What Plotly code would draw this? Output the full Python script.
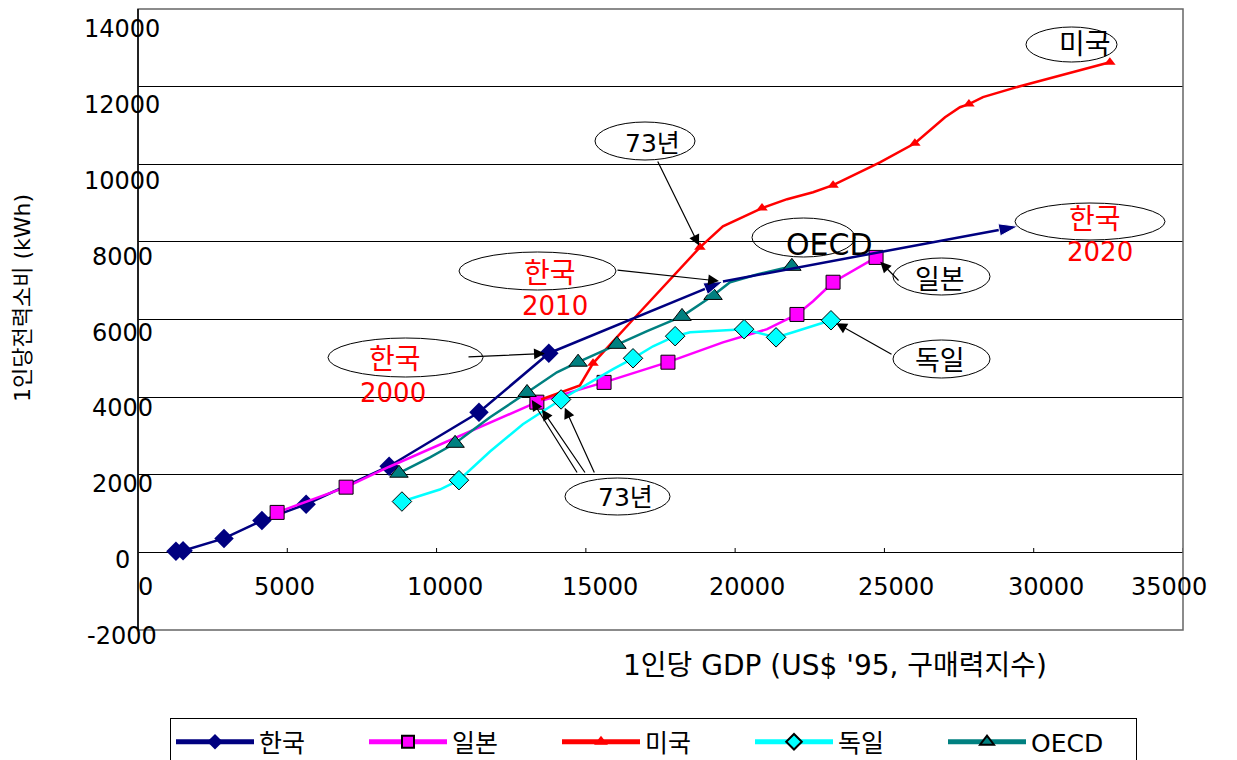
import plotly.graph_objects as go

# ---- data: per-capita GDP (US$ '95 PPP) vs per-capita electricity use (kWh) ----
kr_gdp = [1270, 1510, 2880, 4150, 5630, 8410, 11420, 13760]
kr_kwh = [30, 40, 360, 820, 1240, 2220, 3610, 5130]
kr_marked = [1, 1, 1, 1, 1, 1, 1, 1]
# Korea outlook: 2010, 2020
kr_proj_gdp = [19590, 29470]
kr_proj_kwh = [6980, 8400]

jp_gdp = [4660, 6970, 8400, 13360, 15610, 17750, 19590, 21070, 22070, 22610, 23280, 24720]
jp_kwh = [1030, 1680, 2200, 3870, 4380, 4900, 5410, 5750, 6130, 6470, 6960, 7600]
jp_marked = [1, 1, 0, 1, 1, 1, 0, 0, 1, 0, 1, 1]

us_gdp = [13500, 14800, 15240, 16580, 18820, 19590, 20900, 21740, 22610, 23280,
          24850, 26020, 27030, 27530, 27830, 28300, 29540, 32550]
us_kwh = [3940, 4300, 4870, 6000, 7860, 8400, 8870, 9100, 9280, 9460,
          10050, 10540, 11210, 11470, 11550, 11730, 12010, 12630]
us_marked = [0, 0, 1, 0, 1, 0, 1, 0, 0, 1, 0, 1, 0, 0, 1, 0, 0, 1]

de_gdp = [8840, 10110, 10750, 11790, 12890, 14170, 15910, 16580, 17250, 17990,
          18490, 19260, 20300, 21370, 21940, 23210]
de_kwh = [1310, 1620, 1860, 2600, 3300, 3940, 4720, 5000, 5310, 5570,
          5670, 5700, 5750, 5540, 5670, 5980]
de_marked = [1, 0, 1, 0, 0, 1, 0, 1, 0, 1, 0, 0, 1, 1, 0, 1]

oecd_gdp = [8740, 9780, 10620, 11790, 13030, 14030, 14740, 15810, 16040, 17050,
            18220, 18720, 19260, 19830, 20730, 21900]
oecd_kwh = [2040, 2450, 2810, 3480, 4120, 4640, 4900, 5280, 5360, 5700,
            6080, 6340, 6620, 6960, 7160, 7370]
oecd_marked = [1, 0, 1, 0, 1, 0, 1, 0, 1, 0, 1, 0, 1, 0, 0, 1]

# 1973 positions (index into each series)
us_73, jp_73, de_73, oecd_73 = 4, 3, 5, 4

x_ticks = [0, 5000, 10000, 15000, 20000, 25000, 30000, 35000]
x_tick_text = ["0", "5000", "10000", "15000", "20000", "25000", "30000", "35000"]
y_ticks = [-2000, 0, 2000, 4000, 6000, 8000, 10000, 12000, 14000]
y_tick_text = ["-2000", "0", "2000", "4000", "6000", "8000", "10000", "12000", "14000"]

series_names = ["한국", "일본", "미국", "독일", "OECD"]

# ---- layout geometry (pixels) ----
W, H = 1237, 760
PL, PR, PT, PB = 138, 1183, 9, 630
XMIN, XMAX = 0, 35000
YMIN, YMAX = -2000, 14000

FONT = "DejaVu Sans, Noto Sans CJK KR, sans-serif"


def dx(px):
    return XMIN + (px - PL) / (PR - PL) * (XMAX - XMIN)


def dy(py):
    return YMIN + (PB - py) / (PB - PT) * (YMAX - YMIN)


def paper_x(px):
    return (px - PL) / (PR - PL)


def paper_y(py):
    return (PB - py) / (PB - PT)


def y_pixel(v):
    return PB - (v - YMIN) / (YMAX - YMIN) * (PB - PT)


def sizes(flags, s):
    return [s if f else 0 for f in flags]


fig = go.Figure()


def add_series(name, xs, ys, flags, color, symbol, msize, outline):
    fig.add_trace(go.Scatter(
        x=xs, y=ys, name=name, mode="lines+markers",
        line=dict(color=color, width=2.5),
        marker=dict(symbol=symbol, color=color, size=sizes(flags, msize), opacity=1,
                    line=dict(color="black" if outline else color,
                              width=[1 if f else 0 for f in flags] if outline else 0)),
    ))


add_series(series_names[0], kr_gdp, kr_kwh, kr_marked, "#000080", "diamond", 15, False)
add_series(series_names[1], jp_gdp, jp_kwh, jp_marked, "#FF00FF", "square", 14, True)
add_series(series_names[2], us_gdp, us_kwh, us_marked, "#FF0000", "triangle-up", 10, False)
add_series(series_names[3], de_gdp, de_kwh, de_marked, "#00FFFF", "diamond", 15, True)
add_series(series_names[4], oecd_gdp, oecd_kwh, oecd_marked, "#008080", "triangle-up", 16, True)

# Korea outlook segment with arrow heads
fig.add_trace(go.Scatter(
    x=[kr_gdp[-1]] + kr_proj_gdp, y=[kr_kwh[-1]] + kr_proj_kwh,
    mode="lines+markers", showlegend=False, hoverinfo="skip",
    line=dict(color="#000080", width=2.5),
    marker=dict(symbol=["circle", "arrow", "arrow"], size=[0, 20, 20], opacity=1,
                color="#000080", angleref="previous"),
))

shapes = []
annotations = []

# tick marks on the zero line
for v in x_ticks[1:]:
    shapes.append(dict(type="line", xref="x", yref="y", x0=v, x1=v,
                       y0=0, y1=dy(548), line=dict(color="black", width=1)))

# plot frame
shapes.append(dict(type="rect", xref="paper", yref="paper", x0=0, x1=1, y0=0, y1=1,
                   line=dict(color="#666666", width=1.5)))
shapes.append(dict(type="line", xref="paper", yref="paper", x0=0, x1=0, y0=0, y1=1,
                   line=dict(color="black", width=1.5)))

# tick labels (placed below the zero line / centred left of the axis)
x_label_shift = [7, -3, 8, 14, 12, 12, 12, -14]
for v, t, s in zip(x_ticks, x_tick_text, x_label_shift):
    annotations.append(dict(x=v, y=paper_y(587), xref="x", yref="paper", text=t,
                            showarrow=False, xanchor="center", yanchor="middle", xshift=s,
                            font=dict(family=FONT, size=24, color="black")))
for v, t in zip(y_ticks, y_tick_text):
    shift = 6 + 14 * (v - YMIN) / (YMAX - YMIN)
    annotations.append(dict(x=paper_x(122), y=paper_y(y_pixel(v) + shift),
                            xref="paper", yref="paper", text=t, showarrow=False,
                            xanchor="center", yanchor="middle",
                            font=dict(family=FONT, size=24, color="black")))

# axis titles
annotations.append(dict(x=paper_x(835), y=paper_y(665), xref="paper", yref="paper",
                        text="1인당 GDP (US$ '95, 구매력지수)", showarrow=False,
                        xanchor="center", yanchor="middle",
                        font=dict(family=FONT, size=28, color="black")))
annotations.append(dict(x=paper_x(22), y=paper_y(298), xref="paper", yref="paper",
                        text="1인당전력소비 (kWh)", showarrow=False, textangle=-90,
                        xanchor="center", yanchor="middle",
                        font=dict(family=FONT, size=22, color="black")))


# callout bubbles
def bubble(x0, x1, y0, y1):
    shapes.append(dict(type="circle", xref="x", yref="y",
                       x0=dx(x0), x1=dx(x1), y0=dy(y1), y1=dy(y0),
                       line=dict(color="black", width=1), fillcolor="rgba(0,0,0,0)"))


def label(px, py, text, color="black", size=24):
    annotations.append(dict(x=dx(px), y=dy(py), xref="x", yref="y", text=text,
                            showarrow=False, xanchor="center", yanchor="middle",
                            font=dict(family=FONT, size=size, color=color)))


def pointer(tx, ty, hx, hy, standoff=0):
    annotations.append(dict(x=hx, y=hy, ax=dx(tx), ay=dy(ty), xref="x", yref="y",
                            axref="x", ayref="y", text="", showarrow=True,
                            arrowhead=2, arrowsize=1.8, arrowwidth=1.2,
                            arrowcolor="black", standoff=standoff))


bubble(1026, 1117, 27, 62)
label(1085, 44, "미국", size=28)

bubble(595, 695, 122, 160)
label(652, 143, "73년", size=25)
pointer(657, 160, us_gdp[us_73], us_kwh[us_73], standoff=2)

bubble(752, 855, 218, 257)
label(829, 244, "OECD", size=30)

bubble(1015, 1165, 203, 240)
label(1095, 219, "한국", color="#FF0000", size=28)
label(1100, 252, "2020", color="#FF0000", size=26)

bubble(893, 990, 258, 295)
label(940, 279, "일본", size=27)
pointer(900, 282, jp_gdp[-1], jp_kwh[-1], standoff=6)

bubble(893, 990, 340, 378)
label(940, 360, "독일", size=27)
pointer(893, 355, de_gdp[-1], de_kwh[-1], standoff=6)

bubble(459, 616, 252, 290)
label(550, 273, "한국", color="#FF0000", size=28)
label(555, 306, "2010", color="#FF0000", size=26)
pointer(616, 270, kr_proj_gdp[0], kr_proj_kwh[0], standoff=4)

bubble(328, 483, 338, 377)
label(395, 359, "한국", color="#FF0000", size=28)
label(393, 393, "2000", color="#FF0000", size=26)
pointer(467, 357, kr_gdp[-1], kr_kwh[-1], standoff=4)

bubble(565, 670, 478, 515)
label(625, 497, "73년", size=25)
pointer(578, 474, oecd_gdp[oecd_73], oecd_kwh[oecd_73], standoff=9)
pointer(586, 474, jp_gdp[jp_73], jp_kwh[jp_73], standoff=9)
pointer(595, 474, de_gdp[de_73], de_kwh[de_73], standoff=9)

fig.update_layout(
    width=W, height=H,
    margin=dict(l=PL, r=W - PR, t=PT, b=H - PB, autoexpand=False),
    paper_bgcolor="white", plot_bgcolor="white",
    font=dict(family=FONT, size=22, color="black"),
    xaxis=dict(range=[XMIN, XMAX], showgrid=False, zeroline=False, showline=False,
               showticklabels=False, ticks=""),
    yaxis=dict(range=[YMIN, YMAX], tickvals=y_ticks, showticklabels=False, ticks="",
               showgrid=True, gridcolor="black", gridwidth=1,
               zeroline=True, zerolinecolor="black", zerolinewidth=1, showline=False),
    legend=dict(orientation="h", x=paper_x(170), y=paper_y(718),
                xanchor="left", yanchor="top", bordercolor="black", borderwidth=1,
                font=dict(family=FONT, size=25, color="black"),
                itemsizing="constant", itemwidth=78,
                entrywidth=100, entrywidthmode="pixels", bgcolor="white"),
    shapes=shapes, annotations=annotations, showlegend=True,
)

fig.write_html("out.html")
